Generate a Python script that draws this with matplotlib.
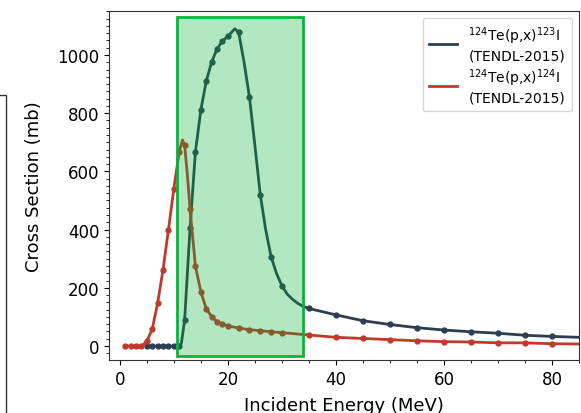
import numpy as np
import matplotlib
matplotlib.use("Agg")
import matplotlib.pyplot as plt
from matplotlib.patches import Rectangle
from matplotlib.ticker import MultipleLocator

BLUE = "#2c3e50"
RED = "#c0392b"

# TENDL-2015 points (markers)
e_i123 = [5, 6, 7, 8, 9, 10, 11, 12, 13, 14, 15, 16, 17, 18, 19, 20, 22, 24, 26, 28, 30,
          35, 40, 45, 50, 55, 60, 65, 70, 75, 80]
xs_i123 = [0, 0, 0, 0, 0, 0, 0, 90, 404, 668, 811, 910, 976, 1021, 1048, 1064, 1078, 855, 520, 307, 207,
           129, 107, 87, 74, 63, 55, 49, 44, 37, 33]

e_i124 = [1, 2, 3, 4, 5, 6, 7, 8, 9, 10, 11, 12, 13, 14, 15, 16, 17, 18, 19, 20, 22, 24, 26, 28, 30,
          35, 40, 45, 50, 55, 60, 65, 70, 75, 80]
xs_i124 = [0, 0, 0, 0, 16, 58, 147, 262, 399, 540, 667, 690, 471, 274, 187, 128, 101, 84, 75, 69, 62, 56, 53, 49, 46,
           38, 30, 26, 22, 18, 15, 14, 11, 11, 8]

# smooth curves
curve_e_i123 = [5, 11, 11.4, 12, 13, 14, 15, 16, 17, 18, 19, 20, 21.3, 22, 23, 24, 25, 26, 27, 28, 29, 30,
                31, 32, 33, 34, 35, 40, 45, 50, 55, 60, 65, 70, 75, 80, 85]
curve_xs_i123 = [0, 0, 10, 90, 404, 668, 811, 910, 976, 1021, 1048, 1064, 1090, 1078, 975, 855, 690, 520, 400, 307, 250, 207,
                 178, 160, 146, 136, 129, 107, 87, 74, 63, 55, 49, 44, 37, 33, 30]
curve_e_i124 = [1, 4, 5, 6, 7, 8, 9, 10, 11, 11.6, 12, 12.5, 13, 14, 15, 16, 17, 18, 19, 20, 22, 24, 26, 28, 30,
                35, 40, 45, 50, 55, 60, 65, 70, 75, 80, 85]
curve_xs_i124 = [0, 0, 16, 58, 147, 262, 399, 540, 667, 708, 690, 590, 471, 274, 187, 128, 101, 84, 75, 69, 62, 56, 53, 49, 46,
                 38, 30, 26, 22, 18, 15, 14, 11, 11, 8, 7]

window = (10.5, 34.0)
window_y = (-33, 1130)


def plotter():
    fig = plt.figure(figsize=(5.81, 4.14), dpi=100)
    ax = fig.add_axes([0.1876, 0.128, 0.809, 0.8437])

    ax.plot(curve_e_i123, curve_xs_i123, color=BLUE, lw=2,
            label="$^{124}$Te(p,x)$^{123}$I\n(TENDL-2015)")
    ax.plot(e_i123, xs_i123, "o", color=BLUE, ms=3.5)
    ax.plot(curve_e_i124, curve_xs_i124, color=RED, lw=2,
            label="$^{124}$Te(p,x)$^{124}$I\n(TENDL-2015)")
    ax.plot(e_i124, xs_i124, "o", color=RED, ms=3.5)

    ax.add_patch(Rectangle((window[0], window_y[0]), window[1] - window[0], window_y[1] - window_y[0],
                           facecolor=(0.0, 0.69, 0.21, 0.3), edgecolor="#00b838", lw=2, zorder=5))

    ax.set_xlim(-2, 85)
    ax.set_ylim(-48, 1152)
    ax.xaxis.set_major_locator(MultipleLocator(20))
    ax.xaxis.set_minor_locator(MultipleLocator(5))
    ax.yaxis.set_major_locator(MultipleLocator(200))
    ax.yaxis.set_minor_locator(MultipleLocator(25))
    ax.tick_params(labelsize=12)
    ax.set_xlabel("Incident Energy (MeV)", fontsize=13, labelpad=6)
    ax.set_ylabel("Cross Section (mb)", fontsize=13, labelpad=10)
    for s in ax.spines.values():
        s.set_color("#333333")

    ax.legend(loc="upper right", fontsize=10, handlelength=2.0, borderpad=0.5, labelspacing=0.3)

    # edge of the neighbouring panel
    fig.add_artist(Rectangle((-0.1, -0.1), 0.1 + 6 / 581, 0.1 + (414 - 96) / 414,
                             transform=fig.transFigure, fill=False, ec="#333333", lw=1))
    return fig


if __name__ == "__main__":
    fig = plotter()
    fig.savefig("out.png", dpi=100)
